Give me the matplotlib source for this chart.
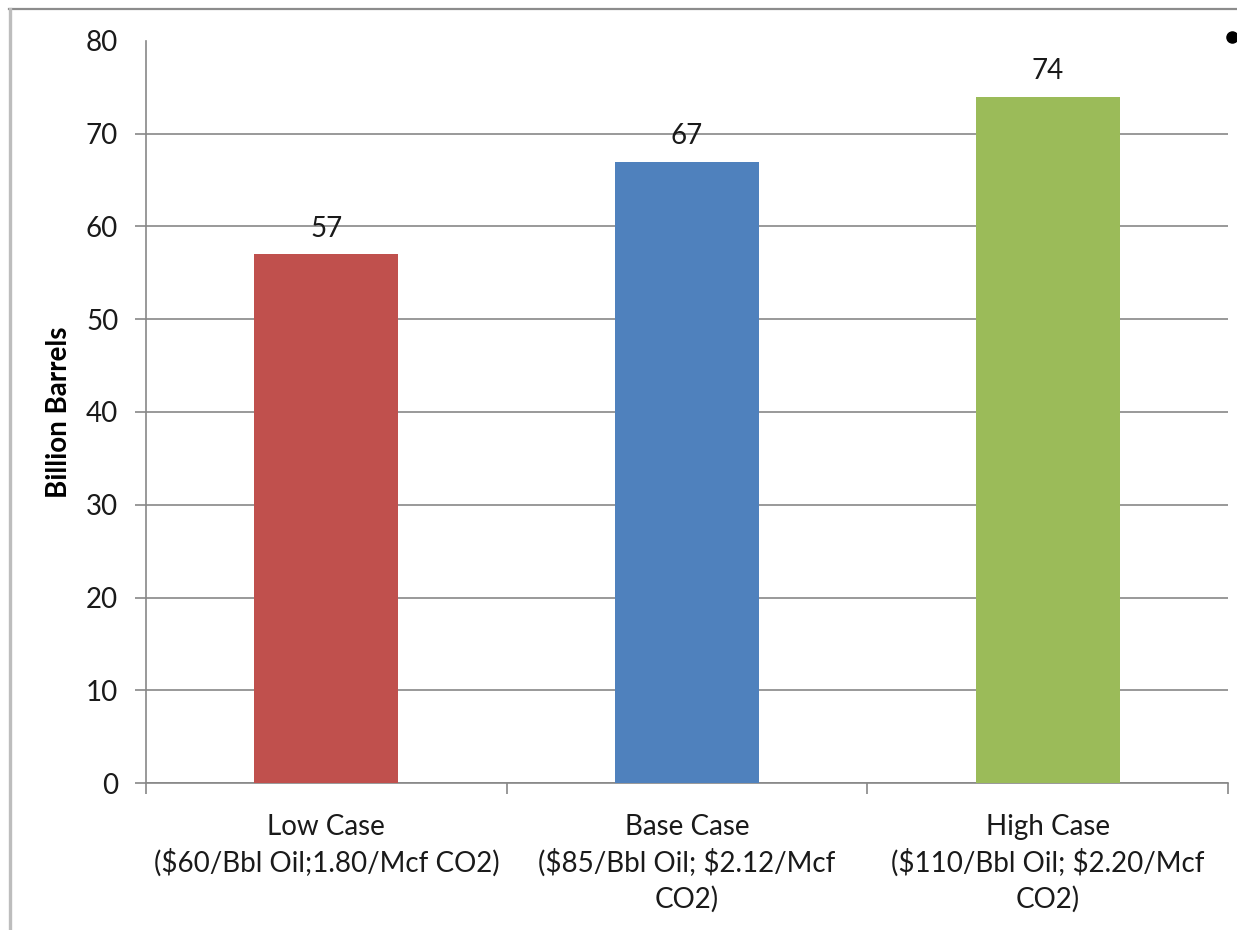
import matplotlib
matplotlib.use("Agg")
import matplotlib.pyplot as plt
from matplotlib.lines import Line2D

plt.rcParams['font.family'] = ['Lato', 'DejaVu Sans']

categories = ["Low Case\n(\\$60/Bbl Oil;1.80/Mcf CO2)",
              "Base Case\n(\\$85/Bbl Oil; \\$2.12/Mcf\nCO2)",
              "High Case\n(\\$110/Bbl Oil; \\$2.20/Mcf\nCO2)"]
values = [57, 67, 74]
colors = ["#C0504D", "#4F81BD", "#9BBB59"]
yticks = [0, 10, 20, 30, 40, 50, 60, 70, 80]
ylabel = "Billion Barrels"

axis_gray = "#878787"
text_color = "#1a1a1a"

fig = plt.figure(figsize=(12.37, 9.30), dpi=100)
ax = fig.add_axes([146 / 1237, 1 - 783 / 930, (1228 - 146) / 1237, (783 - 41) / 930])

x = list(range(len(values)))
bars = ax.bar(x, values, width=0.4, color=colors, zorder=3)
for xi, v in zip(x, values):
    ax.annotate(f"{v}", (xi, v), xytext=(0, 9), textcoords="offset points",
                ha="center", va="bottom", fontsize=20, color=text_color)

ax.set_xlim(-0.5, len(values) - 0.5)
ax.set_ylim(0, 80)

# y axis: ticks and horizontal gridlines
ax.set_yticks(yticks)
ax.set_yticklabels([str(t) for t in yticks], fontsize=20, color=text_color)
ax.tick_params(axis="y", direction="out", length=8, width=1.2, color=axis_gray, pad=12)
ax.yaxis.grid(True, color=axis_gray, linewidth=1.2, zorder=0)
ax.set_axisbelow(True)

# x axis: ticks at category boundaries, labels centred on the categories
ax.set_xticks([i - 0.5 for i in range(len(values) + 1)])
ax.set_xticklabels([])
ax.set_xticks(x, minor=True)
ax.set_xticklabels(categories, minor=True, fontsize=20, color=text_color, linespacing=1.4)
ax.tick_params(axis="x", which="major", direction="out", length=8, width=1.2, color=axis_gray)
ax.tick_params(axis="x", which="minor", length=0, pad=22)

for side in ["top", "right"]:
    ax.spines[side].set_visible(False)
for side in ["left", "bottom"]:
    ax.spines[side].set_color(axis_gray)
    ax.spines[side].set_linewidth(1.2)

ax.set_ylabel(ylabel, fontsize=20, fontweight="bold", color="black")
ax.yaxis.set_label_coords(-0.068, 0.5)

fig.canvas.draw()
# no gridline or tick mark at the top value
top_tick = ax.yaxis.get_major_ticks()[-1]
top_tick.gridline.set_visible(False)
top_tick.tick1line.set_visible(False)

# frame lines along the top and left edges
fig.add_artist(Line2D([9 / 1237, 1], [1 - 9 / 930, 1 - 9 / 930], color="#8c8c8c", linewidth=1.6))
fig.add_artist(Line2D([10 / 1237, 10 / 1237], [0, 1 - 9 / 930], color="#bdbdbd", linewidth=2.4))

# bullet mark in the top-right corner
fig.add_artist(Line2D([1232 / 1237], [1 - 37 / 930], marker="o", markersize=8,
                      color="black", linestyle="none"))

fig.savefig("out.png", dpi=100)
